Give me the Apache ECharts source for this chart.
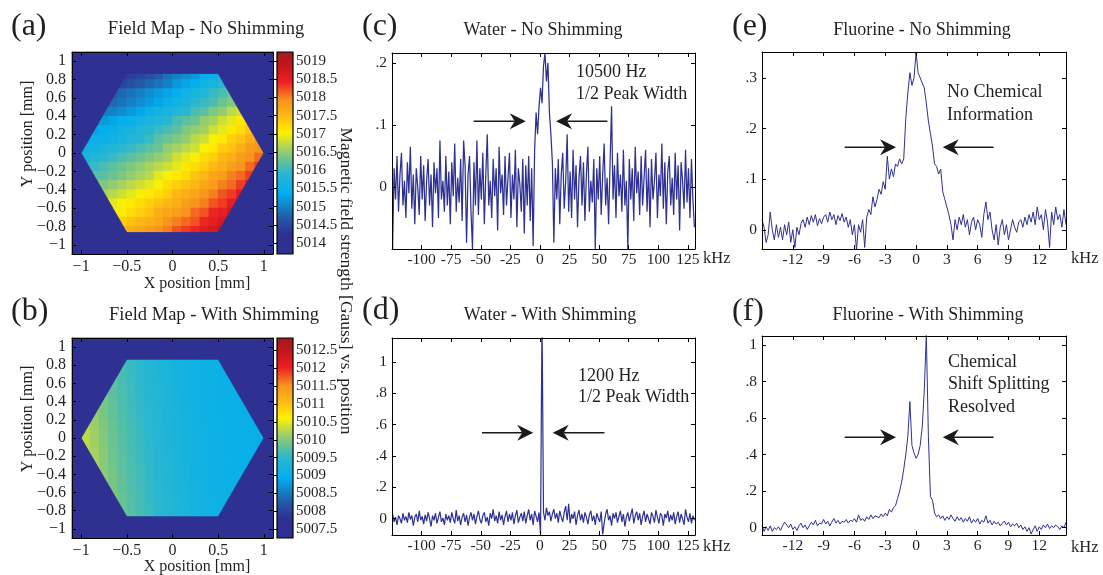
<!DOCTYPE html>
<html>
<head>
<meta charset="utf-8">
<script src="https://cdn.jsdelivr.net/npm/echarts@6/dist/echarts.min.js"></script>
<style>
  html, body { margin: 0; padding: 0; background: #ffffff; }
  #chart { width: 1103px; height: 575px; }
</style>
</head>
<body>
<div id="chart"></div>
<script>
// ---------------------------------------------------------------------------
// Field maps: cell centres (mm) and field values (gauss above FIELD_BASE)
// ---------------------------------------------------------------------------
const FIELD_BASE = 5000;
const cellX = [-0.95, -0.85, -0.75, -0.65, -0.55, -0.45, -0.35, -0.25, -0.15, -0.05,
               0.05, 0.15, 0.25, 0.35, 0.45, 0.55, 0.65, 0.75, 0.85, 0.95];
const cellY = [0.85, 0.75, 0.65, 0.55, 0.45, 0.35, 0.25, 0.15, 0.05, -0.05,
               -0.15, -0.25, -0.35, -0.45, -0.55, -0.65, -0.75, -0.85];
// sample region outline (mm)
const hexagon = [[1, 0], [0.5, 0.866], [-0.5, 0.866], [-1, 0], [-0.5, -0.866], [0.5, -0.866]];

const fieldNoShim = [
  [14.0,14.0,14.1,14.2,14.3,14.4,14.5,14.6,14.7,14.9,15.0,15.1,15.2,15.4,15.5,15.7,15.8,16.0,16.2,16.3],
  [14.1,14.2,14.3,14.4,14.5,14.6,14.7,14.8,14.9,15.0,15.2,15.3,15.4,15.6,15.7,15.9,16.0,16.2,16.3,16.5],
  [14.4,14.5,14.6,14.7,14.8,14.9,15.0,15.1,15.2,15.3,15.4,15.6,15.7,15.8,16.0,16.1,16.3,16.4,16.6,16.8],
  [14.6,14.6,14.7,14.8,14.9,15.0,15.1,15.2,15.3,15.5,15.6,15.7,15.9,16.0,16.1,16.3,16.4,16.6,16.8,16.9],
  [14.8,14.9,15.0,15.0,15.1,15.2,15.3,15.5,15.6,15.7,15.8,15.9,16.1,16.2,16.4,16.5,16.7,16.8,17.0,17.2],
  [15.0,15.1,15.2,15.3,15.4,15.5,15.6,15.7,15.8,15.9,16.1,16.2,16.3,16.5,16.6,16.8,16.9,17.1,17.2,17.4],
  [15.2,15.3,15.4,15.5,15.6,15.7,15.8,15.9,16.0,16.1,16.2,16.4,16.5,16.6,16.8,16.9,17.1,17.2,17.4,17.6],
  [15.4,15.5,15.5,15.6,15.7,15.8,15.9,16.0,16.2,16.3,16.4,16.5,16.7,16.8,17.0,17.1,17.3,17.4,17.6,17.8],
  [15.6,15.6,15.7,15.8,15.9,16.0,16.1,16.2,16.3,16.5,16.6,16.7,16.8,17.0,17.1,17.3,17.4,17.6,17.8,17.9],
  [15.7,15.8,15.9,16.0,16.1,16.2,16.3,16.4,16.5,16.6,16.8,16.9,17.0,17.2,17.3,17.5,17.6,17.8,17.9,18.1],
  [15.9,16.0,16.1,16.2,16.3,16.4,16.5,16.6,16.7,16.8,16.9,17.1,17.2,17.3,17.5,17.6,17.8,17.9,18.1,18.3],
  [16.1,16.2,16.2,16.3,16.4,16.5,16.6,16.7,16.9,17.0,17.1,17.2,17.4,17.5,17.7,17.8,18.0,18.1,18.3,18.5],
  [16.3,16.3,16.4,16.5,16.6,16.7,16.8,16.9,17.0,17.2,17.3,17.4,17.5,17.7,17.8,18.0,18.1,18.3,18.5,18.6],
  [16.4,16.5,16.6,16.7,16.8,16.9,17.0,17.1,17.2,17.3,17.5,17.6,17.7,17.9,18.0,18.2,18.3,18.5,18.6,18.8],
  [16.6,16.7,16.8,16.9,17.0,17.1,17.2,17.3,17.4,17.5,17.6,17.8,17.9,18.0,18.2,18.3,18.5,18.6,18.8,19.0],
  [16.8,16.9,16.9,17.0,17.1,17.2,17.3,17.4,17.6,17.7,17.8,17.9,18.1,18.2,18.4,18.5,18.7,18.8,19.0,19.2],
  [17.0,17.0,17.1,17.2,17.3,17.4,17.5,17.6,17.7,17.9,18.0,18.1,18.2,18.4,18.5,18.7,18.8,19.0,19.2,19.3],
  [17.1,17.2,17.3,17.4,17.5,17.6,17.7,17.8,17.9,18.0,18.2,18.3,18.4,18.6,18.7,18.9,19.0,19.2,19.3,19.5]
];

const fieldShim = [
  [10.13,9.99,9.86,9.75,9.66,9.58,9.49,9.42,9.35,9.29,9.23,9.18,9.14,9.11,9.09,9.07,9.06,9.05,9.05,9.05],
  [10.12,9.98,9.86,9.76,9.67,9.58,9.50,9.42,9.36,9.30,9.24,9.19,9.14,9.11,9.09,9.07,9.06,9.05,9.05,9.05],
  [10.15,10.01,9.88,9.77,9.68,9.59,9.51,9.43,9.36,9.30,9.24,9.19,9.15,9.12,9.09,9.07,9.06,9.05,9.05,9.05],
  [10.18,10.03,9.90,9.79,9.69,9.60,9.52,9.44,9.37,9.31,9.25,9.20,9.15,9.12,9.10,9.08,9.06,9.05,9.05,9.05],
  [10.20,10.05,9.92,9.80,9.70,9.61,9.53,9.45,9.38,9.32,9.26,9.20,9.16,9.12,9.10,9.08,9.06,9.05,9.05,9.05],
  [10.22,10.07,9.94,9.82,9.71,9.62,9.54,9.46,9.39,9.33,9.27,9.21,9.16,9.13,9.10,9.08,9.06,9.05,9.05,9.05],
  [10.24,10.09,9.95,9.83,9.72,9.63,9.55,9.47,9.40,9.33,9.27,9.22,9.17,9.13,9.10,9.08,9.07,9.05,9.05,9.05],
  [10.26,10.11,9.97,9.85,9.74,9.65,9.56,9.48,9.41,9.34,9.28,9.22,9.17,9.14,9.11,9.09,9.07,9.06,9.05,9.05],
  [10.28,10.13,9.99,9.86,9.75,9.66,9.58,9.49,9.42,9.35,9.29,9.23,9.18,9.14,9.11,9.09,9.07,9.06,9.05,9.05],
  [10.29,10.14,10.00,9.87,9.76,9.67,9.58,9.50,9.42,9.36,9.29,9.24,9.18,9.14,9.11,9.09,9.07,9.06,9.05,9.05],
  [10.31,10.16,10.02,9.89,9.77,9.68,9.59,9.51,9.43,9.36,9.30,9.24,9.19,9.15,9.12,9.09,9.07,9.06,9.05,9.05],
  [10.33,10.18,10.03,9.90,9.79,9.69,9.60,9.52,9.44,9.37,9.31,9.25,9.19,9.15,9.12,9.10,9.08,9.06,9.05,9.05],
  [10.35,10.20,10.05,9.92,9.80,9.70,9.62,9.53,9.45,9.38,9.32,9.26,9.20,9.16,9.12,9.10,9.08,9.06,9.05,9.05],
  [10.37,10.22,10.07,9.94,9.82,9.71,9.63,9.54,9.46,9.39,9.33,9.27,9.21,9.16,9.13,9.10,9.08,9.07,9.06,9.05],
  [10.39,10.24,10.09,9.95,9.83,9.73,9.64,9.55,9.47,9.40,9.33,9.27,9.22,9.17,9.13,9.11,9.09,9.07,9.06,9.05],
  [10.41,10.26,10.11,9.97,9.85,9.74,9.65,9.56,9.48,9.41,9.34,9.28,9.22,9.17,9.14,9.11,9.09,9.07,9.06,9.05],
  [10.43,10.28,10.13,9.99,9.86,9.75,9.66,9.58,9.49,9.42,9.35,9.29,9.23,9.18,9.14,9.11,9.09,9.07,9.06,9.05],
  [10.45,10.30,10.15,10.01,9.88,9.77,9.67,9.59,9.50,9.43,9.36,9.30,9.24,9.18,9.15,9.12,9.10,9.08,9.06,9.05]
];

const mapTicksX = [-1, -0.5, 0, 0.5, 1];
const mapTicksY = [-1, -0.8, -0.6, -0.4, -0.2, 0, 0.2, 0.4, 0.6, 0.8, 1];
const colorbarTicksNoShim = [5014, 5014.5, 5015, 5015.5, 5016, 5016.5, 5017, 5017.5, 5018, 5018.5, 5019];
const colorbarTicksShim = [5007.5, 5008, 5008.5, 5009, 5009.5, 5010, 5010.5, 5011, 5011.5, 5012, 5012.5];

// ---------------------------------------------------------------------------
// Spectra: water sampled from -124.5 kHz in 1.25 kHz steps,
// fluorine sampled from -15 kHz in 0.2 kHz steps
// ---------------------------------------------------------------------------
const waterStart = -124.5, waterStep = 1.25;
const fluorStart = -15, fluorStep = 0.2;

const waterNoShim = [
  -0.10, 0.03, -0.02, 0.05, -0.04, 0.02, 0.055, -0.03, 0.01, -0.05,
  0.04, -0.01, 0.065, -0.035, 0.02, -0.06, 0.03, 0.00, -0.045, 0.05,
  -0.02, 0.035, -0.055, 0.01, 0.045, -0.03, 0.02, -0.065, 0.04, -0.01,
  0.03, -0.05, 0.075, -0.02, 0.01, -0.04, 0.05, -0.03, 0.025, -0.06,
  0.04, -0.015, 0.07, -0.04, 0.015, -0.025, 0.045, -0.055, 0.075, 0.035,
  -0.09, 0.02, 0.05, -0.04, -0.10, 0.04, -0.03, 0.075, -0.045, 0.03,
  -0.02, 0.055, -0.06, 0.02, 0.085, -0.03, 0.01, -0.05, 0.045, -0.015,
  0.03, -0.07, 0.065, -0.01, 0.02, -0.045, 0.05, -0.03, 0.015, 0.055,
  -0.05, 0.02, -0.02, 0.06, -0.065, 0.03, 0.005, -0.04, 0.045, -0.075,
  0.035, -0.03, 0.05, -0.055, 0.03, -0.095, 0.06, 0.12, 0.085, 0.13,
  0.16, 0.135, 0.195, 0.216, 0.17, 0.20, 0.12, 0.085, 0.04, -0.09,
  0.03, -0.02, 0.045, -0.06, 0.02, 0.055, -0.035, 0.01, 0.085, -0.04,
  0.025, -0.05, 0.06, -0.02, 0.035, -0.065, 0.015, 0.05, -0.03, 0.04,
  -0.055, 0.02, 0.065, -0.04, 0.01, -0.025, 0.045, -0.10, 0.03, -0.02,
  0.05, -0.045, 0.02, 0.07, -0.03, 0.015, -0.06, 0.04, 0.13, -0.02,
  0.035, -0.05, 0.055, -0.015, 0.02, -0.04, 0.06, -0.03, 0.01, -0.10,
  0.045, -0.02, 0.03, -0.055, 0.065, -0.01, 0.025, -0.045, 0.05, -0.03,
  0.015, 0.06, -0.04, 0.03, -0.065, 0.045, -0.02, 0.01, 0.055, -0.05,
  0.02, -0.015, 0.07, -0.035, 0.04, -0.06, 0.025, 0.05, -0.03, 0.015,
  -0.045, 0.055, -0.02, 0.035, -0.07, 0.04, 0.01, -0.035, 0.06, -0.025,
  0.03, -0.05, 0.045, -0.02, -0.065
];

const waterShim = [
  0.03, -0.02, 0.01, -0.04, 0.02, 0.0, -0.03, 0.035, -0.01, 0.015,
  -0.025, 0.04, -0.005, 0.02, -0.045, 0.01, 0.03, -0.02, 0.05, -0.01,
  0.015, -0.035, 0.025, -0.015, 0.04, 0.0, -0.05, 0.02, -0.01, 0.035,
  -0.03, 0.01, 0.045, -0.02, 0.005, -0.04, 0.03, -0.01, 0.02, -0.025,
  0.04, 0.0, -0.03, 0.055, -0.015, 0.02, -0.04, 0.01, 0.035, -0.02,
  0.025, -0.045, 0.01, 0.04, -0.01, 0.03, -0.035, 0.015, 0.05, -0.005,
  -0.03, 0.02, 0.04, -0.02, 0.01, -0.045, 0.035, 0.0, 0.06, -0.015,
  0.02, -0.03, 0.045, -0.01, 0.025, -0.04, 0.015, 0.05, -0.02, 0.03,
  -0.01, 0.04, -0.035, 0.02, 0.055, -0.025, 0.01, 0.035, -0.015, 0.045,
  -0.03, 0.02, 0.06, -0.01, 0.03, -0.04, 0.05, 0.015, -0.02, 0.04,
  -0.10, 1.30, 0.04, -0.01, 0.07, 0.02, 0.045, -0.015, 0.03, 0.06,
  0.0, 0.035, -0.025, 0.05, 0.01, -0.02, 0.04, 0.08, -0.01, 0.095,
  -0.03, 0.03, 0.0, 0.045, -0.04, 0.02, 0.055, -0.01, 0.03, -0.025,
  0.04, 0.01, -0.035, 0.025, 0.05, -0.015, 0.02, -0.04, 0.035, 0.005,
  -0.02, 0.045, -0.10, -0.03, 0.03, 0.06, -0.01, 0.02, -0.045, 0.035,
  0.0, 0.04, -0.025, 0.015, 0.05, -0.02, 0.03, -0.05, 0.01, 0.04,
  -0.015, 0.025, 0.065, -0.03, 0.02, 0.045, -0.01, 0.035, -0.04, 0.015,
  0.05, -0.02, 0.03, 0.0, -0.035, 0.04, 0.015, -0.025, 0.055, 0.01,
  -0.03, 0.035, 0.02, -0.045, 0.03, 0.005, 0.05, -0.02, 0.025, -0.01,
  0.04, -0.035, 0.015, 0.045, -0.025, 0.03, 0.0, -0.04, 0.06, 0.01,
  -0.02, 0.035, -0.03, 0.02, -0.01
];

const fluorNoShim = [
  0.02, 0.005, -0.025, -0.01, 0.035, 0.0, -0.02, 0.01, -0.015, 0.005,
  -0.02, 0.01, -0.01, 0.015, -0.025, 0.0, -0.035, 0.005, -0.01, 0.012,
  0.02, 0.005, 0.025, 0.01, 0.028, 0.015, 0.03, 0.008, 0.022, 0.012,
  0.025, 0.03, 0.015, 0.035, 0.02, 0.03, 0.01, 0.028, 0.018, 0.032,
  0.015, 0.025, 0.005, 0.02, -0.01, 0.01, -0.04, 0.01, -0.005, 0.02,
  -0.035, 0.025, 0.04, 0.03, 0.065, 0.045, 0.06, 0.08, 0.07, 0.095,
  0.08, 0.145, 0.10, 0.12, 0.105, 0.13, 0.125, 0.14, 0.13, 0.14,
  0.22, 0.27, 0.31, 0.285, 0.30, 0.35, 0.31, 0.30, 0.29, 0.28,
  0.25, 0.215, 0.19, 0.165, 0.13, 0.125, 0.11, 0.12, 0.075, 0.06,
  0.045, 0.03, 0.01, -0.02, 0.02, 0.0, 0.025, 0.01, 0.03, 0.005,
  0.02, -0.01, 0.015, 0.025, 0.0, 0.02, 0.01, -0.015, 0.03, 0.055,
  0.02, 0.035, 0.0, -0.02, 0.01, -0.03, 0.005, 0.02, -0.01, 0.01,
  -0.02, 0.0, 0.02, 0.005, -0.005, 0.015, 0.02, 0.005, 0.025, 0.01,
  0.03, 0.015, 0.035, 0.01, 0.045, 0.02, 0.03, 0.0, 0.04, 0.015,
  -0.035, 0.035, 0.01, 0.045, 0.02, 0.03, 0.005, 0.04, 0.01
];

const fluorShim = [
  0.01, -0.02, 0.005, -0.015, 0.01, -0.02, 0.0, -0.01, 0.005, -0.015,
  0.01, 0.03, 0.015, 0.0, 0.02, -0.01, 0.005, -0.015, 0.01, 0.025,
  0.0, 0.015, -0.01, 0.01, 0.03, 0.015, 0.04, 0.01, 0.025, 0.02,
  0.045, 0.02, 0.035, 0.01, 0.03, 0.05, 0.025, 0.04, 0.02, 0.035,
  0.03, 0.045, 0.025, 0.04, 0.035, 0.05, 0.03, 0.07, 0.04, 0.05,
  0.035, 0.06, 0.045, 0.07, 0.05, 0.065, 0.06, 0.055, 0.075, 0.06,
  0.08, 0.065, 0.10, 0.085, 0.11, 0.12, 0.16, 0.20, 0.25, 0.32,
  0.40, 0.50, 0.69, 0.45, 0.41, 0.38, 0.40, 0.45, 0.55, 0.75,
  1.06, 0.50, 0.17, 0.15, 0.08, 0.06, 0.07, 0.05, 0.065, 0.04,
  0.06, 0.045, 0.07, 0.05, 0.035, 0.06, 0.04, 0.055, 0.03, 0.05,
  0.035, 0.06, 0.025, 0.045, 0.03, 0.05, 0.02, 0.04, 0.03, 0.065,
  0.025, 0.04, 0.015, 0.035, 0.02, 0.03, 0.01, 0.025, 0.035, 0.015,
  0.03, 0.005, 0.02, 0.01, 0.025, 0.0, 0.015, -0.01, 0.005, -0.02,
  0.0, -0.035, -0.01, 0.01, -0.02, 0.005, -0.01, 0.015, 0.0, 0.02,
  -0.005, 0.01, 0.0, 0.015, 0.005, -0.01, 0.01, 0.0, 0.03
];

const waterTicksX = [-100, -75, -50, -25, 0, 25, 50, 75, 100, 125];
const fluorTicksX = [-12, -9, -6, -3, 0, 3, 6, 9, 12];
const waterNoShimTicksY = [0, 0.1, 0.2];
const waterShimTicksY = [0, 0.2, 0.4, 0.6, 0.8, 1];
const fluorNoShimTicksY = [0, 0.1, 0.2, 0.3];
const fluorShimTicksY = [0, 0.2, 0.4, 0.6, 0.8, 1];

// ---------------------------------------------------------------------------
// Styling helpers
// ---------------------------------------------------------------------------
const SERIF = '"Liberation Serif", "Times New Roman", serif';
const INK = '#231f20';
const NAVY = '#2e3192';
const LINE = '#2e3192';

const jetStops = [
  [0.00, '#2e3192'], [0.10, '#2e3192'], [0.17, '#2553a3'], [0.24, '#1384c8'],
  [0.30, '#00aeef'], [0.40, '#2ab7d0'], [0.47, '#6cc38f'], [0.53, '#aed45a'],
  [0.60, '#fff200'], [0.68, '#fdb913'], [0.76, '#f7941d'], [0.85, '#ed2024'],
  [0.93, '#c4161c'], [1.00, '#9b1b1f']
];

function hexToRgb(h) {
  return [parseInt(h.slice(1, 3), 16), parseInt(h.slice(3, 5), 16), parseInt(h.slice(5, 7), 16)];
}
function colorAt(v, lo, hi) {
  let t = (v - lo) / (hi - lo);
  t = Math.max(0, Math.min(1, t));
  for (let i = 1; i < jetStops.length; i++) {
    if (t <= jetStops[i][0]) {
      const a = jetStops[i - 1], b = jetStops[i];
      const f = (t - a[0]) / (b[0] - a[0] || 1);
      const ca = hexToRgb(a[1]), cb = hexToRgb(b[1]);
      const c = ca.map((x, k) => Math.round(x + (cb[k] - x) * f));
      return 'rgb(' + c.join(',') + ')';
    }
  }
  return jetStops[jetStops.length - 1][1];
}

const grids = [], xAxes = [], yAxes = [], series = [];

function frameAxes(box, xr, yr, xt, yt, fx, fy, opt) {
  const gi = grids.length;
  grids.push({ left: box[0], top: box[1], width: box[2], height: box[3] });
  const line = { show: true, onZero: false, lineStyle: { color: '#000', width: 1 } };
  const tick = (vals) => ({ show: true, inside: true, length: 4, customValues: vals, lineStyle: { color: '#000', width: 1 } });
  const lab = (vals, fmt, margin) => ({
    show: true, customValues: vals, formatter: fmt, margin: margin,
    color: INK, fontFamily: SERIF, fontSize: opt.fontSize
  });
  const xi = xAxes.length;
  xAxes.push({ type: 'value', gridIndex: gi, position: 'bottom', min: xr[0], max: xr[1], z: 10,
    splitLine: { show: false }, axisLine: line, axisTick: tick(xt), axisLabel: lab(xt, fx, opt.xMargin) });
  xAxes.push({ type: 'value', gridIndex: gi, position: 'top', min: xr[0], max: xr[1], z: 10,
    splitLine: { show: false }, axisLine: line, axisTick: tick(xt), axisLabel: { show: false } });
  const yi = yAxes.length;
  yAxes.push({ type: 'value', gridIndex: gi, position: 'left', min: yr[0], max: yr[1], z: 10,
    splitLine: { show: false }, axisLine: line, axisTick: tick(yt), axisLabel: lab(yt, fy, opt.yMargin) });
  yAxes.push({ type: 'value', gridIndex: gi, position: 'right', min: yr[0], max: yr[1], z: 10,
    splitLine: { show: false }, axisLine: line, axisTick: tick(yt), axisLabel: { show: false } });
  return { xi: xi, yi: yi };
}

const fmtMap = v => (v < 0 ? '\u2212' + Math.abs(v) : String(v));
const fmtFrac = v => (v === 0 ? '0' : String(v).replace(/^0\./, '.'));
const fmtKHz = v => String(v);

// ---------------------------------------------------------------------------
// Field map panels
// ---------------------------------------------------------------------------
function cellsFrom(rows) {
  const out = [];
  rows.forEach((row, r) => row.forEach((v, c) => out.push([cellX[c], cellY[r], FIELD_BASE + v])));
  return out;
}

function addFieldMap(box, cbBox, rows, cbRange, cbTicks) {
  const ext = [-1.1, 1.1];
  const ax = frameAxes(box, ext, ext, mapTicksX, mapTicksY, fmtMap, fmtMap,
    { fontSize: 16, xMargin: 5, yMargin: 6 });
  const dx = cellX[1] - cellX[0], dy = cellY[0] - cellY[1];
  const lo = cbRange[0], hi = cbRange[1];
  grids[grids.length - 1].backgroundColor = NAVY;
  grids[grids.length - 1].show = true;
  grids[grids.length - 1].borderWidth = 0;
  series.push({
    type: 'custom', xAxisIndex: ax.xi, yAxisIndex: ax.yi, silent: true, clip: false, z: 2,
    data: cellsFrom(rows),
    renderItem: function (params, api) {
      const x = api.value(0), y = api.value(1), v = api.value(2);
      const p0 = api.coord([x - dx / 2, y + dy / 2]);
      const p1 = api.coord([x + dx / 2, y - dy / 2]);
      return { type: 'rect',
        shape: { x: p0[0] - 0.4, y: p0[1] - 0.4, width: p1[0] - p0[0] + 0.8, height: p1[1] - p0[1] + 0.8 },
        style: { fill: colorAt(v, lo, hi) } };
    }
  });
  // background outside the sample outline
  series.push({
    type: 'custom', xAxisIndex: ax.xi, yAxisIndex: ax.yi, silent: true, clip: false, z: 3,
    data: [[0, 0]],
    renderItem: function (params, api) {
      const P = p => api.coord(p);
      const x0 = ext[0], x1 = ext[1], y0 = ext[0], y1 = ext[1];
      const h = hexagon, top = h[1][1], bot = h[4][1];
      const polys = [
        [[x0, y1], [x1, y1], [x1, top], [x0, top]],
        [[x0, bot], [x1, bot], [x1, y0], [x0, y0]],
        [[x0, top], h[2], h[3], h[4], [x0, bot]],
        [[x1, top], h[1], h[0], h[5], [x1, bot]]
      ];
      return { type: 'group', children: polys.map(pts => ({
        type: 'polygon', shape: { points: pts.map(P) },
        style: { fill: NAVY, stroke: NAVY, lineWidth: 0.8 } })) };
    }
  });
  // colour bar
  const cgi = grids.length;
  grids.push({ left: cbBox[0], top: cbBox[1], width: cbBox[2], height: cbBox[3] });
  const cxi = xAxes.length;
  xAxes.push({ type: 'value', gridIndex: cgi, min: 0, max: 1, show: false });
  const cyi = yAxes.length;
  yAxes.push({ type: 'value', gridIndex: cgi, position: 'right', min: lo, max: hi, z: 10,
    splitLine: { show: false }, axisLine: { show: false },
    axisTick: { show: true, inside: true, length: 3, customValues: cbTicks, lineStyle: { color: '#000' } },
    axisLabel: { show: true, customValues: cbTicks, margin: 3, color: INK, fontFamily: SERIF, fontSize: 15,
      formatter: v => String(v) } });
  series.push({
    type: 'custom', xAxisIndex: cxi, yAxisIndex: cyi, silent: true, clip: false, z: 2,
    data: [[0, lo]],
    renderItem: function (params, api) {
      const a = api.coord([0, hi]), b = api.coord([1, lo]);
      return { type: 'rect', shape: { x: a[0], y: a[1], width: b[0] - a[0], height: b[1] - a[1] },
        style: { fill: { type: 'linear', x: 0, y: 1, x2: 0, y2: 0,
          colorStops: jetStops.map(s => ({ offset: s[0], color: s[1] })) },
          stroke: '#000', lineWidth: 1.2 } };
    }
  });
}

addFieldMap([72, 52, 201, 202], [277, 52, 16, 202], fieldNoShim, [5013.7, 5019.25], colorbarTicksNoShim);
addFieldMap([72, 338, 201, 200], [277, 338, 16, 200], fieldShim, [5007.25, 5012.85], colorbarTicksShim);

// ---------------------------------------------------------------------------
// Spectrum panels
// ---------------------------------------------------------------------------
function arrowRenderer(params, api) {
  const a = api.coord([api.value(0), api.value(2)]);
  const b = api.coord([api.value(1), api.value(2)]);
  const dir = b[0] > a[0] ? 1 : -1;
  const L = 16, H = 8, N = 11;
  const back = b[0] - dir * L, notch = b[0] - dir * N;
  return { type: 'group', children: [
    { type: 'line', shape: { x1: a[0], y1: a[1], x2: notch, y2: b[1] }, style: { stroke: '#1a1a1a', lineWidth: 1.6 } },
    { type: 'polygon', shape: { points: [[b[0], b[1]], [back, b[1] - H], [notch, b[1]], [back, b[1] + H]] },
      style: { fill: '#1a1a1a' } }
  ] };
}

function addSpectrum(box, xr, yr, xt, yt, start, step, values, arrows, lw) {
  const ax = frameAxes(box, xr, yr, xt, yt, fmtKHz, fmtFrac, { fontSize: 15.5, xMargin: 3, yMargin: 5 });
  series.push({
    type: 'line', xAxisIndex: ax.xi, yAxisIndex: ax.yi, showSymbol: false, silent: true, clip: true, z: 2,
    lineStyle: { color: LINE, width: lw },
    data: values.map((v, i) => [start + step * i, v])
  });
  series.push({
    type: 'custom', xAxisIndex: ax.xi, yAxisIndex: ax.yi, silent: true, clip: false, z: 4,
    data: arrows, renderItem: arrowRenderer
  });
}

addSpectrum([392, 53, 303, 196], [-125, 131], [-0.1, 0.216], waterTicksX, waterNoShimTicksY,
  waterStart, waterStep, waterNoShim, [[-56, -12, 0.106], [57, 13.6, 0.106]], 1.25);
addSpectrum([392, 338, 303, 197], [-125, 131], [-0.104, 1.153], waterTicksX, waterShimTicksY,
  waterStart, waterStep, waterShim, [[-49, -5.7, 0.548], [54.5, 10.8, 0.548]], 1.2);
addSpectrum([762, 52, 304, 197], [-15, 14.6], [-0.038, 0.351], fluorTicksX, fluorNoShimTicksY,
  fluorStart, fluorStep, fluorNoShim, [[-6.95, -1.95, 0.163], [7.55, 2.6, 0.163]], 1);
addSpectrum([762, 336, 304, 199], [-15, 14.6], [-0.04, 1.049], fluorTicksX, fluorShimTicksY,
  fluorStart, fluorStep, fluorShim, [[-6.95, -1.95, 0.495], [7.55, 2.6, 0.495]], 1);

// ---------------------------------------------------------------------------
// Titles, panel letters and annotations
// ---------------------------------------------------------------------------
function txt(x, y, text, size, align, rot) {
  return { type: 'text', x: x, y: y, rotation: rot || 0, z: 20, silent: true,
    style: { text: text, font: size + 'px ' + SERIF, fill: INK, align: align || 'center', verticalAlign: 'middle' } };
}

const graphic = [
  txt(11, 27, '(a)', 32, 'left'),
  txt(11, 312, '(b)', 32, 'left'),
  txt(362, 27, '(c)', 32, 'left'),
  txt(362, 311, '(d)', 32, 'left'),
  txt(732, 27, '(e)', 32, 'left'),
  txt(732, 312, '(f)', 32, 'left'),
  txt(206, 29, 'Field Map - No Shimming', 18.5),
  txt(214, 315, 'Field Map - With Shimming', 18.5),
  txt(543, 30, 'Water - No Shimming', 18),
  txt(550, 315, 'Water - With Shimming', 18),
  txt(922, 30, 'Fluorine - No Shimming', 18),
  txt(928, 315, 'Fluorine - With Shimming', 18),
  txt(197, 284, 'X position [mm]', 16),
  txt(197, 567, 'X position [mm]', 16),
  txt(28, 134, 'Y position [mm]', 16, 'center', Math.PI / 2),
  txt(28, 419, 'Y position [mm]', 16, 'center', Math.PI / 2),
  txt(346, 281, 'Magnetic field strength [Gauss] vs. position', 17.5, 'center', -Math.PI / 2),
  txt(703, 259, 'kHz', 16.5, 'left'),
  txt(703, 547, 'kHz', 16.5, 'left'),
  txt(1071, 259, 'kHz', 16.5, 'left'),
  txt(1071, 548, 'kHz', 16.5, 'left'),
  txt(576, 72, '10500 Hz', 18, 'left'),
  txt(576, 94, '1/2 Peak Width', 18, 'left'),
  txt(578, 376, '1200 Hz', 18, 'left'),
  txt(578, 397, '1/2 Peak Width', 18, 'left'),
  txt(947, 92, 'No Chemical', 18, 'left'),
  txt(947, 115, 'Information', 18, 'left'),
  txt(948, 362, 'Chemical', 18, 'left'),
  txt(948, 384, 'Shift Splitting', 18, 'left'),
  txt(948, 407, 'Resolved', 18, 'left')
];

const chart = echarts.init(document.getElementById('chart'), null, { renderer: 'canvas' });
chart.setOption({
  animation: false,
  backgroundColor: '#ffffff',
  textStyle: { fontFamily: SERIF },
  grid: grids,
  xAxis: xAxes,
  yAxis: yAxes,
  series: series,
  graphic: graphic
});
</script>
</body>
</html>
